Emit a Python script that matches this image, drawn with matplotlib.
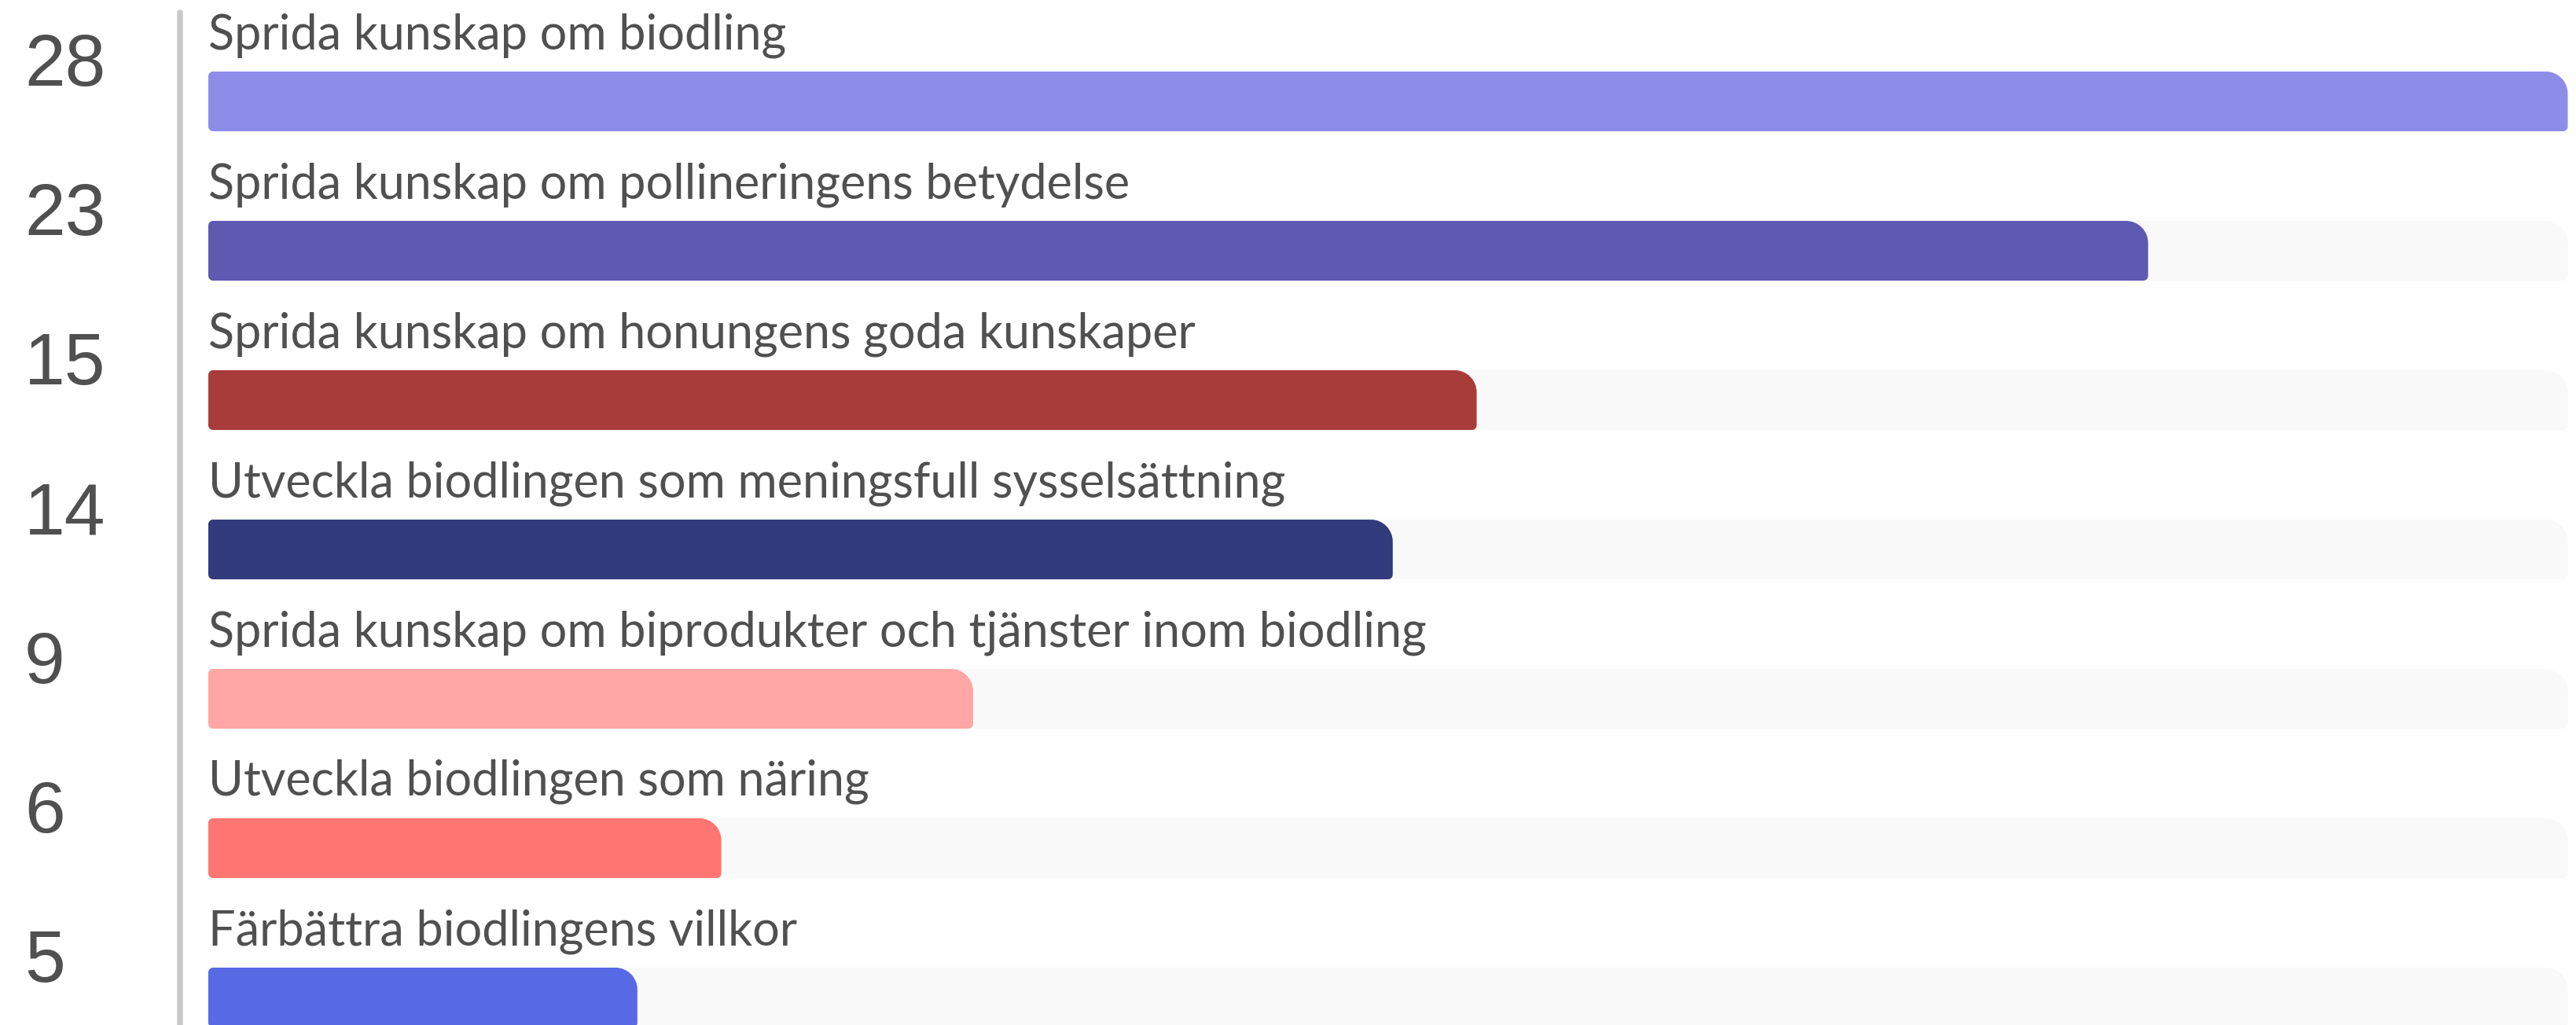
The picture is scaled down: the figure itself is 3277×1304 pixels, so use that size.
import matplotlib
matplotlib.use("Agg")
import matplotlib.pyplot as plt
from matplotlib.path import Path
from matplotlib.patches import PathPatch
from matplotlib.lines import Line2D
import matplotlib.transforms as mtransforms

# ---- data ----
categories = [
    "Sprida kunskap om biodling",
    "Sprida kunskap om pollineringens betydelse",
    "Sprida kunskap om honungens goda kunskaper",
    "Utveckla biodlingen som meningsfull sysselsättning",
    "Sprida kunskap om biprodukter och tjänster inom biodling",
    "Utveckla biodlingen som näring",
    "Färbättra biodlingens villkor",
]
values = [28, 23, 15, 14, 9, 6, 5]
colors = ["#8D8DE9", "#5E59B1", "#A83C3A", "#323B7B", "#FFA6A6", "#FF7571", "#5769E5"]

TRACK = "#F9F9F9"
TEXT = "#505050"

W, H = 3277, 1304
DPI = 100
fig = plt.figure(figsize=(W / DPI, H / DPI), dpi=DPI)
fig.patch.set_facecolor("white")

x_left_px, x_right_px = 265, 3266.5
ax = fig.add_axes([x_left_px / W, 0, (x_right_px - x_left_px) / W, 1])
ax.set_axis_off()
vmax = max(values)
ax.set_xlim(0, vmax)
row_px = 190.0
row0_px = 129.0
ax.set_ylim((H - row0_px) / row_px, -row0_px / row_px)

sx = ax.bbox.width / vmax
sy = ax.bbox.height / ((H) / row_px)
bar_h = 76 / row_px
K = 0.5523
END_PAD_PX = 12  # minimum cap width of the value bars


def rounded_bar(x0, x1, yc, h, color, radii=(6, 28, 6, 6)):
    top = yc - h / 2
    bot = yc + h / 2
    tl, tr, br, bl = [(r / sx, r / sy) for r in radii]
    verts = [
        (x0 + tl[0], top),
        (x1 - tr[0], top),
        (x1 - tr[0] + K * tr[0], top), (x1, top + tr[1] - K * tr[1]), (x1, top + tr[1]),
        (x1, bot - br[1]),
        (x1, bot - br[1] + K * br[1]), (x1 - br[0] + K * br[0], bot), (x1 - br[0], bot),
        (x0 + bl[0], bot),
        (x0 + bl[0] - K * bl[0], bot), (x0, bot - bl[1] + K * bl[1]), (x0, bot - bl[1]),
        (x0, top + tl[1]),
        (x0, top + tl[1] - K * tl[1]), (x0 + tl[0] - K * tl[0], top), (x0 + tl[0], top),
        (x0 + tl[0], top),
    ]
    codes = ([Path.MOVETO, Path.LINETO] + [Path.CURVE4] * 3 + [Path.LINETO] + [Path.CURVE4] * 3
             + [Path.LINETO] + [Path.CURVE4] * 3 + [Path.LINETO] + [Path.CURVE4] * 3 + [Path.CLOSEPOLY])
    p = PathPatch(Path(verts, codes), facecolor=color, edgecolor="none", clip_on=False)
    ax.add_patch(p)


blend = mtransforms.blended_transform_factory(fig.transFigure, ax.transData)

for i, (cat, val, col) in enumerate(zip(categories, values, colors)):
    rounded_bar(0, vmax, i, bar_h, TRACK)
    end = val + (END_PAD_PX / sx) * (1 - val / vmax)
    rounded_bar(0, end, i, bar_h, col)
    ax.text(0.0015, i - bar_h / 2 - 29 / row_px, cat, ha="left", va="baseline",
            fontsize=44, color=TEXT, family=["Lato", "DejaVu Sans"], clip_on=False)
    fig.text(31 / W, i - 44 / row_px, str(val), transform=blend, ha="left", va="center",
             fontsize=67, color=TEXT, family=["Liberation Sans", "DejaVu Sans"])

# vertical divider
fig.add_artist(Line2D([229 / W, 229 / W], [1 - 16 / H, -0.01], transform=fig.transFigure,
                      color="#C8C8C8", linewidth=5.4, solid_capstyle="round"))

fig.savefig("out.png", dpi=DPI, facecolor="white")
